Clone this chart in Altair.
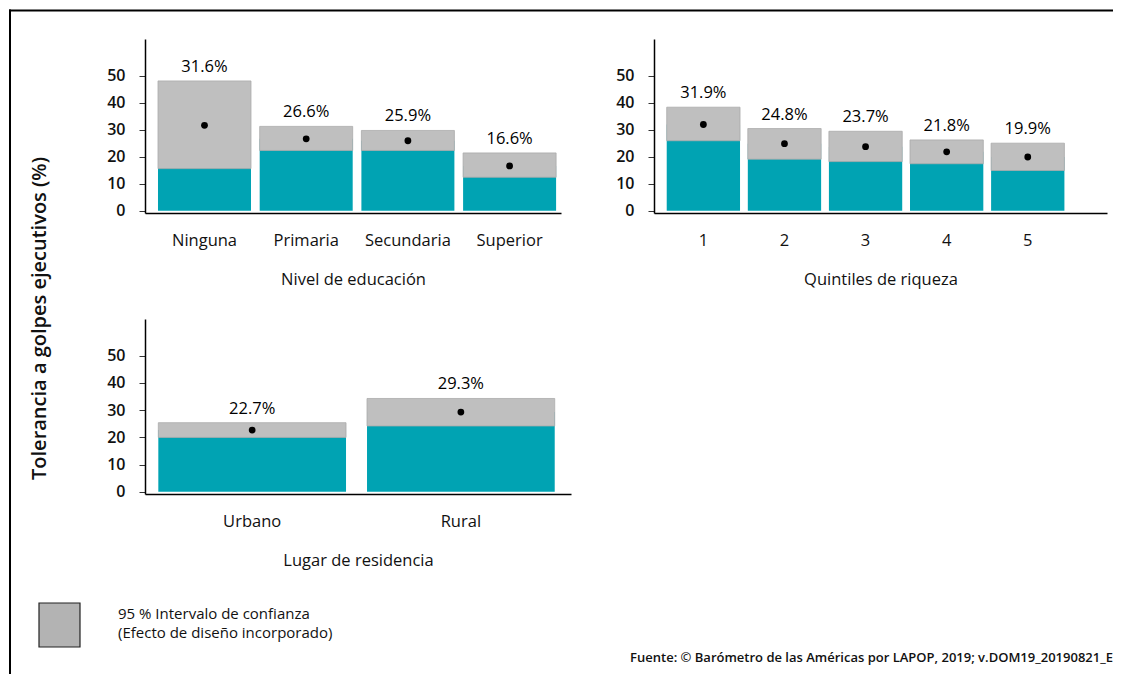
import altair as alt
import pandas as pd

FONT = "Open Sans"
TEAL = "#00A3B3"
GRAY = "#BFBFBF"

# ---- data ----
edu_cats = ["Ninguna", "Primaria", "Secundaria", "Superior"]
edu_mean = [31.6, 26.6, 25.9, 16.6]
edu_low = [15.6, 22.3, 22.3, 12.4]
edu_high = [48.0, 31.2, 29.7, 21.4]

q_cats = ["1", "2", "3", "4", "5"]
q_mean = [31.9, 24.8, 23.7, 21.8, 19.9]
q_low = [25.9, 19.1, 18.2, 17.4, 14.9]
q_high = [38.3, 30.4, 29.4, 26.2, 25.0]

res_cats = ["Urbano", "Rural"]
res_mean = [22.7, 29.3]
res_low = [20.0, 24.2]
res_high = [25.4, 34.3]

y_ticks = [0, 10, 20, 30, 40, 50]
y_title = "Tolerancia a golpes ejecutivos (%)"
x_titles = ["Nivel de educación", "Quintiles de riqueza", "Lugar de residencia"]
legend_lines = ["95 % Intervalo de confianza", "(Efecto de diseño incorporado)"]
footer_text = "Fuente: © Barómetro de las Américas por LAPOP, 2019; v.DOM19_20190821_E"


def panel(cats, mean, low, high, xtitle, width, height, pin, pout, align, ytitle=None):
    df = pd.DataFrame({"cat": cats, "mean": mean, "low": low, "high": high})
    df["label"] = [f"{m:.1f}%" for m in mean]
    x = alt.X(
        "cat:N", sort=cats, title=xtitle,
        scale=alt.Scale(paddingInner=pin, paddingOuter=pout, align=align),
        axis=alt.Axis(labelAngle=0, ticks=False, tickSize=0, labelPadding=19,
                      titlePadding=23, domainColor="black", domainWidth=1.5,
                      labelFontSize=16.5, titleFontSize=16.5, titleFontWeight="normal",
                      labelColor="#111", titleColor="#111", labelFont=FONT,
                      titleFont=FONT),
    )
    yscale = alt.Scale(domain=[-0.8, 63.5], nice=False, zero=False)
    axis_kw = dict(values=y_ticks, grid=False, tickSize=6, tickColor="#333",
                   domainColor="black", domainWidth=1.5, labelFontSize=16,
                   labelFontWeight=600, labelPadding=14, labelColor="#111",
                   labelFont=FONT)
    if ytitle:
        axis_kw.update(titleFont=FONT, titleFontSize=20, titleFontWeight=600,
                       titleColor="#111", titleX=-106, titleY=279,
                       titleAngle=270, titleAlign="center", titleBaseline="middle")
    yaxis = alt.Axis(**axis_kw)

    def Y(field):
        if ytitle:
            return alt.Y(field, scale=yscale, axis=yaxis, title=ytitle)
        return alt.Y(field, scale=yscale, axis=yaxis, title=None)

    base = alt.Chart(df).encode(x=x)
    teal = base.mark_bar(color=TEAL).encode(y=Y("mean:Q"), y2=alt.datum(0))
    ci = base.mark_bar(color=GRAY, stroke="#ababab", strokeWidth=0.8).encode(
        y=Y("low:Q"), y2="high:Q")
    dots = base.mark_circle(color="black", size=46, opacity=1).encode(y=Y("mean:Q"))
    labels = base.mark_text(dy=-6, baseline="bottom", fontSize=16.5, font=FONT,
                            color="black").encode(y=Y("high:Q"), text="label:N")
    return [teal, ci, dots, labels], width, height


l1, w1, h1 = panel(edu_cats, edu_mean, edu_low, edu_high, x_titles[0], 416, 174,
                   0.0855, 0.088, 0.726, ytitle=y_title)
p1 = alt.layer(*l1).properties(width=w1, height=h1)

l2, w2, h2 = panel(q_cats, q_mean, q_low, q_high, x_titles[1], 453, 174,
                   0.096, 0.341, 0.23)
p2 = alt.layer(*l2).properties(width=w2, height=h2)

l3, w3, h3 = panel(res_cats, res_mean, res_low, res_high, x_titles[2], 426, 175,
                   0.1006, 0.0709, 0.45)

# decorations (frame, legend, source) drawn relative to the third panel
one = pd.DataFrame({"k": [0]})
frame_left = alt.Chart(one).mark_rule(color="black", strokeWidth=2).encode(
    x=alt.value(-135), y=alt.value(-309.5), y2=alt.value(355))
frame_top = alt.Chart(one).mark_rule(color="black", strokeWidth=2).encode(
    x=alt.value(-136), x2=alt.value(968), y=alt.value(-308.5))
legend_box = alt.Chart(one).mark_rect(fill="#b3b3b3", stroke="#222", strokeWidth=1.2).encode(
    x=alt.value(-106), x2=alt.value(-65), y=alt.value(284), y2=alt.value(328))
legend_t1 = alt.Chart(one).mark_text(align="left", baseline="middle", fontSize=15,
                                     font=FONT, color="#111").encode(
    x=alt.value(-27), y=alt.value(294.5), text=alt.value(legend_lines[0]))
legend_t2 = alt.Chart(one).mark_text(align="left", baseline="middle", fontSize=15,
                                     font=FONT, color="#111").encode(
    x=alt.value(-27), y=alt.value(313.5), text=alt.value(legend_lines[1]))
footer = alt.Chart(one).mark_text(align="right", baseline="alphabetic", fontSize=13,
                                  fontWeight=600, font=FONT, color="#111").encode(
    x=alt.value(968), y=alt.value(342.5), text=alt.value(footer_text))

p3 = alt.layer(*l3, frame_left, frame_top, legend_box, legend_t1, legend_t2, footer
               ).properties(width=w3, height=h3)

chart = alt.concat(
    p1, p2, p3, columns=2, bounds="flush", align="none",
    spacing={"row": 106, "column": 83},
).properties(padding=0).configure(font=FONT).configure_view(stroke=None)

chart.save("out.html", embed_options={"renderer": "svg", "actions": False})
